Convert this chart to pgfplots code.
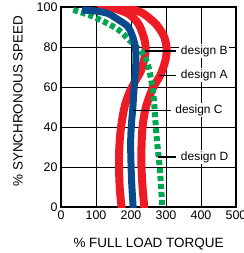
\documentclass[border=0pt]{standalone}
\usepackage{pgfplots}
\pgfplotsset{compat=1.18}
\usepackage{fontspec}
\setmainfont{Liberation Sans}
\definecolor{myred}{HTML}{ED1C24}
\definecolor{myblue}{HTML}{0A4A8C}
\definecolor{mygreen}{HTML}{00A651}
\begin{document}
\begin{tikzpicture}
\begin{axis}[
  width=175bp, height=200bp, scale only axis,
  xmin=0, xmax=500, ymin=0, ymax=100,
  xtick={0,100,...,500}, ytick={0,20,...,100},
  grid=major, major grid style={black, line width=0.8bp},
  axis line style={black, line width=1.6bp},
  major tick length=0pt,
  tick label style={font=\fontsize{12.5}{14}\selectfont},
  /pgf/number format/assume math mode=true,
  xlabel={\% FULL LOAD TORQUE},
  ylabel={\% SYNCHRONOUS SPEED},
  label style={font=\fontsize{13.5}{15}\selectfont},
  xlabel style={at={(axis description cs:0.5,-0.185)}, anchor=center},
  ylabel style={at={(axis description cs:-0.246,0.53)}, anchor=center},
]
\coordinate (O) at (rel axis cs:0,0);
% design A (right red)
\addplot[myred, line width=8bp, smooth, line cap=round] coordinates {
(160,101.5) (200,99.3) (235,96.7) (262,93) (278,90) (295,85) (302,79) (298,73)
(284,66) (264,60) (250,54) (240,48) (233,40) (230,30) (230,20) (233,10) (238,0) (239,-2)};
% design B (left red)
\addplot[myred, line width=8bp, smooth, line cap=round] coordinates {
(110,101.5) (150,99.5) (192,96.7) (215,93) (226,90) (238,84) (242,79) (238,74)
(228,68) (212,63) (195,57) (183,51) (175,44) (169,36) (166,27) (166,18) (168,9) (173,0) (174,-2)};
% design D (green)
\addplot[mygreen, line width=6bp, smooth, dash pattern=on 5bp off 3bp] coordinates {
(35,98.5) (80,96) (125,92.5) (165,88.5) (192,84) (215,80) (237,76) (250,70)
(256,65) (263,58) (267,50) (271,40) (276,30) (282,20) (286,10) (289,0)};
% design C (blue)
\addplot[myblue, line width=7bp, smooth] coordinates {
(60,98.5) (100,98) (135,96.7) (165,93.5) (192,90) (207,84) (213,79) (214,73)
(211,65) (208,57) (205,49) (201,41) (199,32) (200,22) (202,12) (206,0) (206,-2)};
% pointers and labels
\draw[black, line width=1.5bp] (axis cs:240,78) -- (axis cs:330,78);
\draw[black, line width=1.5bp] (axis cs:281,65.8) -- (axis cs:330,65.8);
\draw[black, line width=1.5bp] (axis cs:205,48.3) -- (axis cs:315,48.3);
\draw[black, line width=1.5bp] (axis cs:278,25) -- (axis cs:330,25);
\node[fill=white, inner sep=1.5pt, anchor=west, font=\fontsize{12}{14}\selectfont] at (axis cs:338,78) {design B};
\node[fill=white, inner sep=1.5pt, anchor=west, font=\fontsize{12}{14}\selectfont] at (axis cs:338,65.8) {design A};
\node[fill=white, inner sep=1.5pt, anchor=west, font=\fontsize{12}{14}\selectfont] at (axis cs:322,48.3) {design C};
\node[fill=white, inner sep=1.5pt, anchor=west, font=\fontsize{12}{14}\selectfont] at (axis cs:338,25) {design D};
\end{axis}
\pgfresetboundingbox
\path (O) ++(-61bp,-46bp) rectangle ++(244bp,253bp);
\end{tikzpicture}
\end{document}
